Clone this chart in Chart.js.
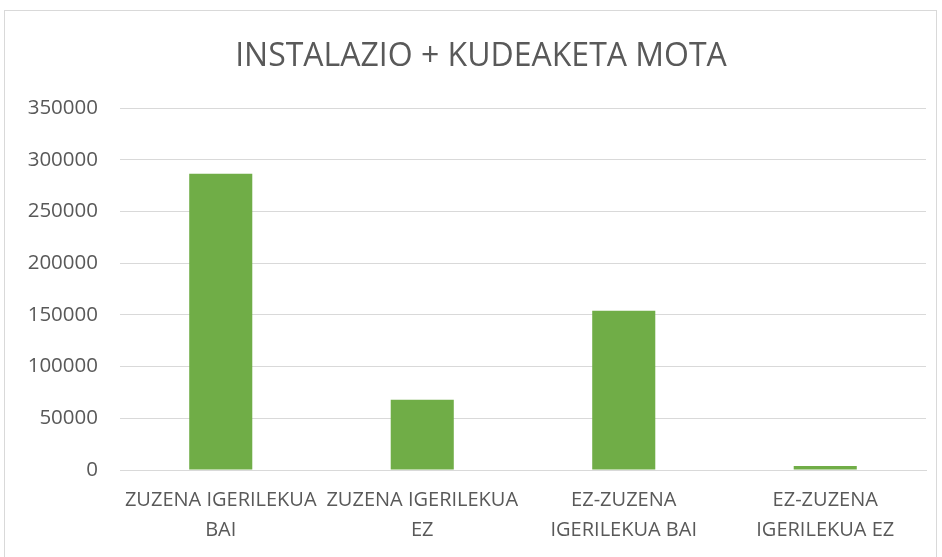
<!DOCTYPE html>
<html>
<head>
<meta charset="utf-8">
<script src="https://cdn.jsdelivr.net/npm/chart.js@4.4.1/dist/chart.umd.min.js"></script>
<style>
  html, body { margin: 0; padding: 0; background: #ffffff; }
  body { width: 942px; height: 557px; position: relative; overflow: hidden; }
  #frame { position: absolute; left: 4px; top: 10px; width: 933px; height: 560px; border: 1px solid #d9d9d9; box-sizing: border-box; }
  #wrap { position: absolute; left: 0; top: 0; width: 942px; height: 557px; }
</style>
</head>
<body>
<div id="frame"></div>
<div id="wrap"><canvas id="c" width="942" height="557"></canvas></div>
<script>
const titleText = "INSTALAZIO + KUDEAKETA MOTA";
const categories = [
  ["ZUZENA IGERILEKUA", "BAI"],
  ["ZUZENA IGERILEKUA", "EZ"],
  ["EZ-ZUZENA", "IGERILEKUA BAI"],
  ["EZ-ZUZENA", "IGERILEKUA EZ"]
];
const values = [286500, 68000, 154000, 3800];
const yMin = 0;
const yMax = 350000;
const yStep = 50000;

const textColor = "#595959";
const fontFamily = "'Open Sans', 'Liberation Sans', sans-serif";

const titlePlugin = {
  id: "centeredTitle",
  afterDraw(chart) {
    const ctx = chart.ctx;
    ctx.save();
    ctx.font = "32px " + fontFamily;
    ctx.fillStyle = textColor;
    ctx.textAlign = "center";
    ctx.textBaseline = "middle";
    ctx.fillText(titleText, (chart.width + 20) / 2, 57);
    ctx.restore();
  }
};

new Chart(document.getElementById("c"), {
  type: "bar",
  data: {
    labels: categories,
    datasets: [{
      data: values,
      backgroundColor: "#70ad47",
      borderWidth: 0,
      categoryPercentage: 1.0,
      barPercentage: 0.313
    }]
  },
  plugins: [titlePlugin],
  options: {
    responsive: false,
    animation: false,
    layout: { padding: { left: 0, right: 16, top: 108, bottom: 0 } },
    plugins: {
      legend: { display: false },
      tooltip: { enabled: false },
      title: { display: false }
    },
    scales: {
      x: {
        grid: { display: false, drawTicks: false },
        border: { display: true, color: "#d9d9d9", width: 1 },
        ticks: {
          color: textColor,
          font: { family: fontFamily, size: 20, lineHeight: 1.5 },
          padding: 15,
          maxRotation: 0,
          autoSkip: false
        },
        afterFit: function(scale) { scale.height = 87; }
      },
      y: {
        min: yMin,
        max: yMax,
        grid: { color: "#d9d9d9", lineWidth: 1, drawTicks: false },
        border: { display: false },
        ticks: {
          stepSize: yStep,
          color: textColor,
          font: { family: fontFamily, size: 20.5 },
          padding: 22,
          callback: function(v) { return String(v); }
        },
        afterFit: function(scale) { scale.width = 120; }
      }
    }
  }
});
</script>
</body>
</html>
